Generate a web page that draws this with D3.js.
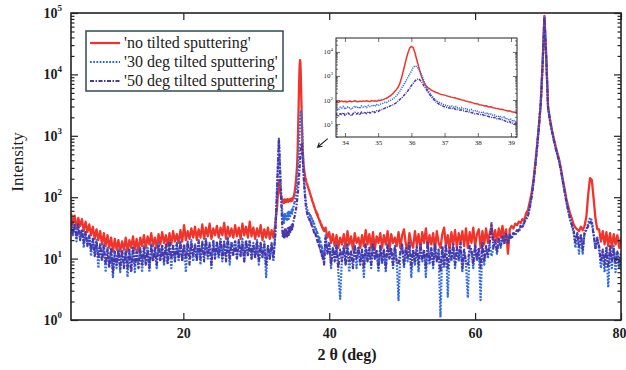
<!DOCTYPE html>
<html>
<head>
<meta charset="utf-8">
<script src="https://cdn.jsdelivr.net/npm/d3@7"></script>
<style>
body { margin: 0; background: #fff; }
svg { display: block; }
text { font-family: "Liberation Serif", "Times New Roman", serif; fill: #1c1c1c; }
</style>
</head>
<body>
<div id="chart"></div>
<script>
// series names / colours
const seriesNames = ["'no tilted sputtering'", "'30 deg tilted sputtering'", "'50 deg tilted sputtering'"];
const seriesColors = ["#f0342a", "#2f6ae0", "#4a36a8"];

// 2theta sampling: 4.6..33.35 step .25, 33.6..39.3 step .05 (inset zone), 39.5..80 step .25
const leftStart = 4.6, leftStep = 0.25;
const insetStart = 33.6, insetStep = 0.05;
const rightStart = 39.5, rightStep = 0.25;

// intensities (counts)
const redLeft = [
  55,36,50,31,46,34,44,28,40,27,
  36,24,33,21,30,20,28,17,26,16,
  24,15,22,13,21,14,20,13,19,14,
  22,13,20,15,23,14,21,13,22,16,
  24,15,23,17,26,16,22,15,25,17,
  27,18,24,16,26,17,28,19,25,18,
  29,19,35,20,28,21,31,22,33,20,
  30,22,36,21,32,23,37,21,31,24,
  34,22,32,24,38,21,33,23,31,22,
  35,23,32,21,37,24,33,22,40,23,
  32,21,31,23,35,20,30,22,32,21,
  29,22,36,70,190,110];
const blueLeft = [
  44,24,37,19,33,21,30,15,27,17,
  24,11,22,12,20,7,18,10,17,6,
  15,8,14,5,13,7,14,6,13,8,
  14,5,13,7,15,6,14,8,15,6,
  16,8,15,6,17,9,15,7,18,10,
  17,8,16,9,19,7,17,10,18,9,
  19,10,17,6,18,11,20,9,17,10,
  20,8,19,11,21,10,18,7,20,11,
  19,10,21,9,18,11,22,8,19,12,
  20,10,18,11,21,9,19,12,20,10,
  18,11,20,8,17,10,19,5,16,10,
  18,9,26,150,900,160];
const purpleLeft = [
  40,26,35,22,36,20,30,18,27,16,
  23,14,21,11,19,10,17,9,16,8,
  14,7,15,6,13,8,14,7,14,7,
  13,7,14,6,15,8,13,7,14,8,
  15,8,14,7,16,9,15,8,17,9,
  16,9,17,8,18,10,16,9,17,10,
  18,9,17,10,19,8,18,11,17,9,
  19,10,18,9,20,11,17,8,19,10,
  18,11,20,10,19,9,21,10,18,11,
  19,10,20,11,18,9,20,11,19,10,
  17,10,19,9,18,11,17,8,16,10,
  17,10,24,130,850,140];

const redInset = [
  88,82,90,85,80,87,92,84,89,83,
  86,91,85,88,93,86,84,90,87,92,
  88,94,89,86,95,90,93,88,97,95,
  100,104,112,118,132,145,165,190,230,270,
  340,480,800,1500,2800,5500,9500,14500,17000,15500,
  10000,5500,3000,1700,1000,650,470,380,320,290,
  260,240,220,205,195,180,172,165,160,152,
  145,140,132,128,125,118,112,108,102,99,
  95,88,86,82,80,76,72,70,68,64,
  62,60,56,58,54,51,53,48,47,45,
  44,42,40,41,38,37,35,36,33,32,
  31,32,29,30,28];
const blueInset = [
  48,40,52,44,38,50,46,55,42,49,
  53,45,41,50,56,47,52,44,58,51,
  55,49,60,53,57,62,54,65,59,66,
  70,74,80,78,88,96,100,112,130,150,
  180,230,300,390,500,680,900,1200,1600,2200,
  2600,2500,2100,1700,1200,800,520,360,260,200,
  160,130,110,96,85,78,72,66,62,60,
  57,55,58,52,50,54,48,46,49,44,
  42,45,40,38,41,36,35,37,33,31,
  30,32,28,27,29,25,26,23,24,21,
  20,22,19,18,20,16,17,15,16,13,
  14,12,13,11,10];
const purpleInset = [
  26,22,28,24,21,27,25,30,23,27,
  29,24,22,28,31,26,29,24,32,28,
  30,27,33,29,31,35,30,36,33,38,
  40,42,46,48,52,56,60,64,70,78,
  90,105,120,140,170,205,250,310,400,490,
  600,700,760,700,580,450,350,280,210,170,
  140,115,95,82,72,65,60,56,52,50,
  48,46,47,43,44,40,41,38,39,36,
  35,33,34,31,30,29,27,28,26,25,
  24,25,22,23,21,20,19,18,19,17,
  16,17,15,15,14,13,12,13,11,11,
  10,11,9,9,8];

const redRight = [
  32,22,27,18,25,16,24,15,22,17,
  25,15,28,17,23,14,26,18,22,15,
  24,16,29,17,25,15,27,14,23,18,
  26,15,24,17,28,14,25,18,22,16,
  27,15,24,30,17,14,26,18,15,28,
  17,25,14,27,18,31,15,24,17,26,
  14,28,18,15,25,32,16,24,14,27,
  17,29,15,26,18,28,16,31,15,27,
  18,32,16,25,30,15,28,17,31,18,
  26,33,20,29,19,31,22,34,21,30,
  12,30,34,31,37,35,40,38,44,42,
  55,62,85,118,190,350,700,1500,3500,15000,
  90000,20000,3000,1900,1300,950,700,540,420,300,
  200,140,95,72,55,45,36,32,30,28,
  33,29,34,48,110,205,190,95,45,30,
  30,19,28,17,27,16,26,15,25,17,
  24,15,22];
const blueRight = [
  24,13,19,7,15,10,17,6,2.2,11,
  16,8,15,6,13,9,17,7,15,10,
  13,5,16,9,14,7,17,10,13,6,
  16,8,14,6,17,10,13,7,15,9,
  2.1,12,16,7,14,9,17,5,13,8,
  15,6,16,9,13,5,17,8,14,7,
  16,9,13,1.1,15,7,17,2.4,13,9,
  16,7,14,9,17,6,13,8,2.3,15,
  13,7,16,9,14,2.1,17,8,15,10,
  17,11,15,19,12,20,15,22,17,24,
  19,25,21,27,24,30,28,35,33,40,
  45,52,70,105,175,330,680,1450,3400,14000,
  88000,19000,2900,1850,1250,900,670,510,400,285,
  190,130,88,60,44,34,27,15,25,12,
  24,12,27,30,38,46,42,26,14,23,
  14,7,13,6,15,3.4,14,7,16,6,
  13,7,12];
const purpleRight = [
  22,12,17,8,15,9,16,7,14,9,
  15,8,17,9,13,7,16,10,15,8,
  14,7,17,9,15,8,18,10,14,7,
  16,9,14,7,17,10,15,8,16,9,
  8,13,17,8,15,10,18,7,14,9,
  16,8,17,10,14,7,18,9,15,8,
  17,9,14,6,16,8,17,7,15,10,
  17,8,15,10,18,7,14,9,8,16,
  14,8,17,10,15,7,18,9,16,11,
  18,38,15,20,13,21,16,23,18,25,
  18,24,21,26,24,29,27,34,32,39,
  44,50,68,100,170,320,660,1400,3300,13500,
  86000,18500,2800,1800,1220,880,650,500,390,280,
  185,125,85,62,46,36,29,18,26,16,
  25,14,26,29,34,41,37,24,15,21,
  16,9,14,8,15,7,16,9,15,8,
  13,9,12];

const xTicks = [20, 40, 60, 80];
const decades = [1, 10, 100, 1000, 10000, 100000];
const insetXTicks = [34, 35, 36, 37, 38, 39];
const insetDecades = [10, 100, 1000, 10000];

// ---- helpers
function toPoints(values, start, step) {
    return values.map((v, i) => [start + step * i, v]);
}
function minorTicks(lo, hi) {
    let out = [];
    for (let d = lo; d < hi; d *= 10) {
        for (let m = 2; m <= 9; m++) out.push(m * d);
    }
    return out;
}
function supLabel(sel, exp, size, supSize, dyUp) {
    sel.append("tspan").text("10").attr("font-size", size);
    sel.append("tspan").text(exp).attr("font-size", supSize).attr("dy", -dyUp);
}

const series = [
    { name: seriesNames[0], color: seriesColors[0], left: redLeft, inset: redInset, right: redRight, dash: null, insetDash: null, width: 2.3 },
    { name: seriesNames[1], color: seriesColors[1], left: blueLeft, inset: blueInset, right: blueRight, dash: "1.8,1.4", insetDash: "1.2,1", width: 2.2 },
    { name: seriesNames[2], color: seriesColors[2], left: purpleLeft, inset: purpleInset, right: purpleRight, dash: "4,1.5,1.5,1.5", insetDash: "3,1,1,1", width: 2.2 }
];
series.forEach(s => {
    s.insetPts = toPoints(s.inset, insetStart, insetStep);
    s.all = toPoints(s.left, leftStart, leftStep)
        .concat(s.insetPts)
        .concat(toPoints(s.right, rightStart, rightStep));
});

const width = 626, height = 370;
const svg = d3.select("#chart").append("svg")
    .attr("width", width)
    .attr("height", height);

const x = d3.scaleLinear().domain([4.6, 80]).range([71, 621]);
const y = d3.scaleLog().domain([1, 1e5]).range([320, 13]);

svg.append("clipPath").attr("id", "plotClip")
    .append("rect").attr("x", 71).attr("y", 13).attr("width", 550).attr("height", 307);

const line = d3.line().x(d => x(d[0])).y(d => y(d[1]));

const plot = svg.append("g").attr("clip-path", "url(#plotClip)");
series.forEach(s => {
    plot.append("path")
        .datum(s.all)
        .attr("d", line)
        .attr("fill", "none")
        .attr("stroke", s.color)
        .attr("stroke-width", s.width)
        .attr("stroke-linejoin", "round")
        .attr("stroke-dasharray", s.dash);
});

// ---- main axes
const axisColor = "#222";
function styleAxis(g) {
    g.select(".domain").remove();
    g.selectAll(".tick line").attr("stroke", axisColor).attr("stroke-width", 1.2);
}
const minors = minorTicks(1, 1e5);
svg.append("g").attr("transform", "translate(71,0)")
    .call(d3.axisLeft(y).tickValues(decades).tickSize(-7).tickFormat("")).call(styleAxis);
svg.append("g").attr("transform", "translate(71,0)")
    .call(d3.axisLeft(y).tickValues(minors).tickSize(-3.5).tickFormat("")).call(styleAxis);
svg.append("g").attr("transform", "translate(621,0)")
    .call(d3.axisRight(y).tickValues(decades).tickSize(-7).tickFormat("")).call(styleAxis);
svg.append("g").attr("transform", "translate(621,0)")
    .call(d3.axisRight(y).tickValues(minors).tickSize(-3.5).tickFormat("")).call(styleAxis);
svg.append("g").attr("transform", "translate(0,320)")
    .call(d3.axisBottom(x).tickValues(xTicks).tickSize(-7).tickPadding(8).tickFormat(d3.format("d")))
    .call(styleAxis)
    .call(g => g.selectAll("text")
        .attr("font-size", 14).attr("font-weight", "bold")
        .attr("font-family", "Liberation Serif, serif").attr("fill", "#1c1c1c"))
    // the last label sits on the picture's right edge; nudge it in so it stays whole
    .call(g => g.selectAll(".tick").filter(d => d === 80).select("text").attr("text-anchor", "end").attr("x", 5));
svg.append("g").attr("transform", "translate(0,13)")
    .call(d3.axisTop(x).tickValues(xTicks).tickSize(-7).tickFormat("")).call(styleAxis);

svg.append("rect")
    .attr("x", 71).attr("y", 13).attr("width", 550).attr("height", 307)
    .attr("fill", "none").attr("stroke", axisColor).attr("stroke-width", 1.6);

svg.append("g").selectAll("text")
    .data(decades)
    .join("text")
    .attr("x", 62)
    .attr("y", d => y(d) + 5)
    .attr("text-anchor", "end")
    .attr("font-weight", "bold")
    .each(function (d) { supLabel(d3.select(this), String(Math.round(Math.log10(d))), 14, 9, 7); });

svg.append("text")
    .attr("transform", "translate(23,162) rotate(-90)")
    .attr("text-anchor", "middle")
    .attr("font-size", 17)
    .text("Intensity");

svg.append("text")
    .attr("x", 347).attr("y", 360)
    .attr("text-anchor", "middle")
    .attr("font-size", 16)
    .attr("font-weight", "bold")
    .text("2 θ (deg)");

// ---- legend
const legend = svg.append("g").attr("transform", "translate(86,31)");
legend.append("rect")
    .attr("width", 197).attr("height", 60)
    .attr("fill", "#fff").attr("stroke", "#2e4b52").attr("stroke-width", 1.5);
series.forEach((s, i) => {
    const ly = 12 + i * 19;
    legend.append("line")
        .attr("x1", 4).attr("x2", 34).attr("y1", ly).attr("y2", ly)
        .attr("stroke", s.color).attr("stroke-width", 2.2)
        .attr("stroke-dasharray", s.dash);
    legend.append("text")
        .attr("x", 38).attr("y", ly + 5)
        .attr("font-size", 16)
        .text(s.name);
});

// ---- arrow pointing to the 36 deg peak
const tail = [x(39.8), y(900)], tip = [x(38.4), y(650)];
const ang = Math.atan2(tip[1] - tail[1], tip[0] - tail[0]);
const head = 5;
svg.append("path")
    .attr("d", `M${tail[0]},${tail[1]}L${tip[0]},${tip[1]}` +
        `M${tip[0] - head * Math.cos(ang - 0.5)},${tip[1] - head * Math.sin(ang - 0.5)}L${tip[0]},${tip[1]}` +
        `L${tip[0] - head * Math.cos(ang + 0.5)},${tip[1] - head * Math.sin(ang + 0.5)}`)
    .attr("fill", "none").attr("stroke", "#222").attr("stroke-width", 1.1);

// ---- inset
const ix = d3.scaleLinear().domain([33.73, 39.18]).range([336, 517]);
const iy = d3.scaleLog().domain([2.9, 38000]).range([137, 38]);
const inset = svg.append("g");
inset.append("rect")
    .attr("x", 336).attr("y", 38).attr("width", 181).attr("height", 99)
    .attr("fill", "#fff");
svg.append("clipPath").attr("id", "insetClip")
    .append("rect").attr("x", 336).attr("y", 38).attr("width", 181).attr("height", 99);
const iline = d3.line().x(d => ix(d[0])).y(d => iy(d[1]));
const iplot = inset.append("g").attr("clip-path", "url(#insetClip)");
series.forEach(s => {
    iplot.append("path")
        .datum(s.insetPts)
        .attr("d", iline)
        .attr("fill", "none")
        .attr("stroke", s.color)
        .attr("stroke-width", 1.5)
        .attr("stroke-linejoin", "round")
        .attr("stroke-dasharray", s.insetDash);
});
const iminors = minorTicks(10, 10000).concat([3, 4, 5, 6, 7, 8, 9, 20000, 30000]);
function styleInset(g) {
    g.select(".domain").remove();
    g.selectAll(".tick line").attr("stroke", "#333").attr("stroke-width", 0.7);
}
inset.append("g").attr("transform", "translate(336,0)")
    .call(d3.axisLeft(iy).tickValues(insetDecades).tickSize(-4).tickFormat("")).call(styleInset);
inset.append("g").attr("transform", "translate(336,0)")
    .call(d3.axisLeft(iy).tickValues(iminors).tickSize(-2).tickFormat("")).call(styleInset);
inset.append("g").attr("transform", "translate(517,0)")
    .call(d3.axisRight(iy).tickValues(insetDecades).tickSize(-4).tickFormat("")).call(styleInset);
inset.append("g").attr("transform", "translate(517,0)")
    .call(d3.axisRight(iy).tickValues(iminors).tickSize(-2).tickFormat("")).call(styleInset);
inset.append("g").attr("transform", "translate(0,137)")
    .call(d3.axisBottom(ix).tickValues(insetXTicks).tickSize(-4).tickPadding(3).tickFormat(d3.format("d")))
    .call(styleInset)
    .call(g => g.selectAll("text").attr("font-size", 7).attr("font-family", "Liberation Serif, serif").attr("fill", "#222"));
inset.append("g").attr("transform", "translate(0,38)")
    .call(d3.axisTop(ix).tickValues(insetXTicks).tickSize(-4).tickFormat("")).call(styleInset);
inset.append("rect")
    .attr("x", 336).attr("y", 38).attr("width", 181).attr("height", 99)
    .attr("fill", "none").attr("stroke", "#222").attr("stroke-width", 1);
inset.append("g").selectAll("text")
    .data(insetDecades)
    .join("text")
    .attr("x", 333)
    .attr("y", d => iy(d) + 2.5)
    .attr("text-anchor", "end")
    .each(function (d) { supLabel(d3.select(this), String(Math.round(Math.log10(d))), 7, 5, 3); });
</script>
</body>
</html>
